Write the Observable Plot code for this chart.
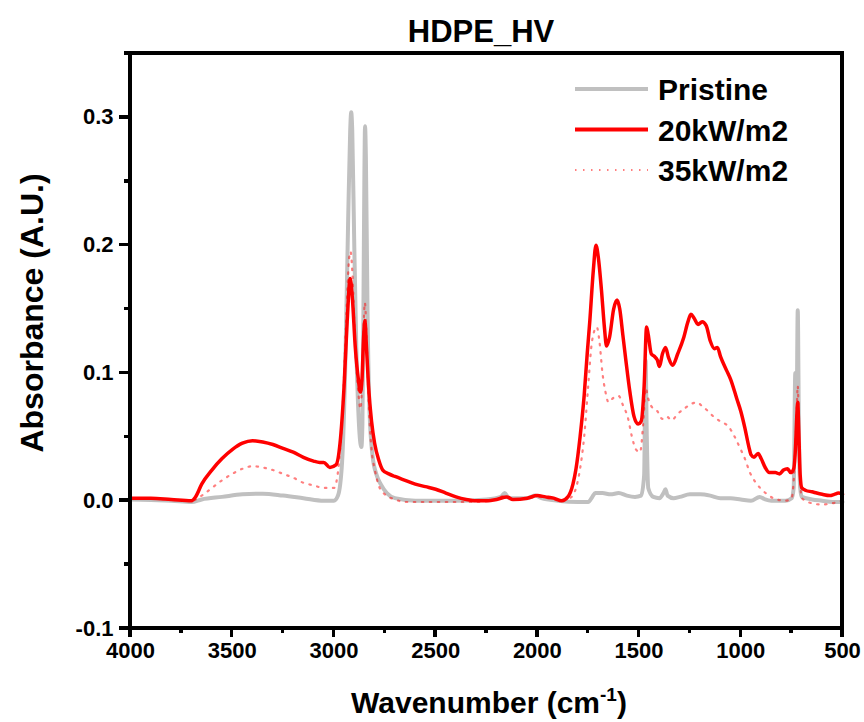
<!DOCTYPE html>
<html><head><meta charset="utf-8">
<script src="https://cdn.jsdelivr.net/npm/d3@7"></script>
<script src="https://cdn.jsdelivr.net/npm/@observablehq/plot@0.6"></script>
<style>
html,body{margin:0;padding:0;background:#fff;overflow:hidden}
svg text{font-weight:bold}
</style>
</head><body><div id="chart"></div>
<script>
// ---- Data ----
const seriesNames = ["Pristine", "20kW/m2", "35kW/m2"];

const wnPristine = [4000,3900,3800,3700,3650,3550,3450,3350,3250,3150,3050,3000,2980,2960,2945,2930,2920,2915,2910,2900,2890,2880,2870,2865,2860,2855,2850,2847,2843,2835,2825,2810,2790,2770,2740,2700,2600,2400,2250,2180,2160,2140,2050,2010,1980,1900,1800,1750,1730,1715,1680,1640,1600,1560,1520,1490,1475,1468,1462,1455,1430,1400,1380,1370,1360,1330,1300,1250,1200,1150,1100,1050,1000,950,907,880,850,780,750,740,732,726,720,714,708,700,650,600,550,500];
const absPristine = [0.001,0.0005,0.0,-0.001,0.001,0.003,0.005,0.0055,0.004,0.002,0.0,0.0,0.004,0.03,0.10,0.22,0.29,0.304,0.29,0.20,0.12,0.07,0.045,0.042,0.06,0.15,0.26,0.293,0.27,0.15,0.07,0.035,0.02,0.013,0.006,0.002,0.0,0.0,0.001,0.003,0.006,0.002,0.002,0.004,0.002,0.0,-0.001,-0.001,0.003,0.006,0.006,0.005,0.006,0.004,0.003,0.004,0.02,0.11,0.05,0.01,0.003,0.002,0.006,0.009,0.004,0.002,0.003,0.005,0.005,0.004,0.002,0.002,0.001,0.0,0.003,0.001,0.0,0.0,0.002,0.01,0.1,0.06,0.149,0.05,0.01,0.003,0.001,0.0,-0.001,-0.001];

const wn20 = [4000,3900,3800,3700,3680,3650,3600,3550,3500,3450,3400,3350,3300,3250,3200,3150,3100,3070,3050,3020,2990,2970,2950,2935,2920,2910,2895,2880,2870,2862,2855,2848,2840,2830,2815,2800,2780,2760,2730,2700,2650,2600,2550,2500,2450,2400,2350,2300,2250,2200,2150,2120,2050,2000,1960,1920,1880,1850,1825,1810,1790,1770,1755,1742,1725,1712,1700,1685,1670,1660,1645,1625,1608,1595,1580,1565,1545,1525,1505,1490,1475,1463,1455,1440,1425,1410,1400,1385,1370,1355,1335,1310,1280,1260,1245,1230,1210,1190,1170,1150,1130,1115,1100,1070,1050,1020,1000,980,960,950,935,915,900,880,860,830,810,790,770,755,740,730,725,720,715,708,700,680,650,627,600,563,540,520,500];
const abs20 = [0.002,0.002,0.001,0.0,0.003,0.013,0.024,0.033,0.04,0.045,0.047,0.046,0.044,0.041,0.038,0.034,0.031,0.03,0.03,0.026,0.028,0.045,0.09,0.14,0.174,0.16,0.12,0.095,0.085,0.095,0.125,0.141,0.12,0.09,0.062,0.045,0.032,0.024,0.021,0.019,0.016,0.013,0.011,0.009,0.006,0.003,0.001,0.0,0.0,0.001,0.003,0.001,0.002,0.004,0.003,0.002,0.0,0.003,0.013,0.025,0.05,0.082,0.115,0.141,0.18,0.2,0.19,0.165,0.135,0.121,0.128,0.15,0.157,0.15,0.13,0.11,0.085,0.066,0.06,0.062,0.09,0.136,0.13,0.115,0.113,0.11,0.105,0.115,0.12,0.112,0.106,0.115,0.128,0.14,0.146,0.143,0.138,0.14,0.137,0.125,0.119,0.12,0.113,0.102,0.095,0.08,0.07,0.057,0.042,0.036,0.034,0.037,0.033,0.026,0.022,0.022,0.021,0.024,0.025,0.022,0.025,0.045,0.065,0.077,0.055,0.02,0.01,0.008,0.007,0.006,0.005,0.004,0.005,0.006,0.005];

const wn35 = [4000,3800,3700,3650,3600,3550,3500,3450,3400,3350,3300,3250,3200,3150,3100,3050,3000,2975,2955,2940,2925,2918,2910,2895,2880,2870,2862,2855,2848,2840,2830,2815,2800,2780,2750,2700,2650,2500,2300,2200,2160,2120,2050,2000,1950,1880,1840,1810,1790,1770,1750,1735,1720,1708,1695,1680,1665,1650,1630,1600,1580,1555,1535,1515,1495,1480,1467,1455,1440,1410,1385,1365,1340,1310,1270,1240,1215,1190,1160,1135,1100,1060,1030,1000,980,955,930,905,870,840,780,750,735,725,720,714,706,700,650,600,550,500];
const abs35 = [0.002,0.001,0.0,0.004,0.01,0.016,0.021,0.025,0.027,0.026,0.024,0.021,0.018,0.014,0.012,0.01,0.01,0.03,0.08,0.14,0.19,0.195,0.18,0.12,0.085,0.072,0.09,0.13,0.155,0.13,0.08,0.04,0.025,0.012,0.005,0.001,-0.001,-0.001,-0.001,0.001,0.004,0.001,0.002,0.003,0.002,0.0,0.002,0.01,0.025,0.05,0.09,0.12,0.133,0.136,0.125,0.1,0.085,0.077,0.08,0.082,0.075,0.065,0.05,0.04,0.038,0.06,0.088,0.08,0.074,0.07,0.064,0.066,0.063,0.068,0.073,0.076,0.077,0.074,0.07,0.066,0.062,0.058,0.05,0.04,0.033,0.022,0.015,0.01,0.005,0.002,0.0,0.002,0.03,0.07,0.09,0.05,0.01,0.002,-0.002,-0.003,-0.002,0.0];

const xTicks = [4000,3500,3000,2500,2000,1500,1000,500];
const xMinorTicks = [3750,3250,2750,2250,1750,1250,750];
const yTicks = [-0.1,0.0,0.1,0.2,0.3];
const yMinorTicks = [-0.05,0.05,0.15,0.25,0.35];

const toRows = (wn, a) => wn.map((w, i) => ({wn: w, a: a[i]}));
const pristine = toRows(wnPristine, absPristine);
const kw20 = toRows(wn20, abs20);
const kw35 = toRows(wn35, abs35);

const W = 864, H = 722;
const mL = 130, mR = 22, mT = 53, mB = 94;

const plot = Plot.plot({
  width: W, height: H,
  marginTop: mT, marginBottom: mB, marginLeft: mL, marginRight: mR,
  style: {fontFamily: "'Liberation Sans', Arial, sans-serif", fontSize: "22px", fontWeight: "bold", background: "#fff", overflow: "visible", maxWidth: "none"},
  x: {domain: [4000, 500]},
  y: {domain: [-0.1, 0.35]},
  marks: [
    Plot.line(pristine, {x: "wn", y: "a", stroke: "#c0c0c0", strokeWidth: 4, curve: "monotone-x"}),
    Plot.line(kw20, {x: "wn", y: "a", stroke: "#ff0000", strokeWidth: 3.5, curve: "monotone-x"}),
    Plot.line(kw35, {x: "wn", y: "a", stroke: "#ff0000", strokeOpacity: 0.5, strokeWidth: 2.2, strokeDasharray: "1.5 6.5", curve: "monotone-x"}),
    Plot.axisX({ticks: xTicks, tickSize: 0, tickPadding: 14, tickFormat: d => String(d), label: null}),
    Plot.axisY({ticks: yTicks, tickSize: 0, tickPadding: 17, tickFormat: d => d.toFixed(1), label: null})
  ]
});

const svg = d3.select(plot);
const ff = "'Liberation Sans', Arial, sans-serif";
const sx = plot.scale("x"), sy = plot.scale("y");
const x0 = sx.apply(4000), x1 = sx.apply(500), y0 = sy.apply(-0.1), y1 = sy.apply(0.35);

// ticks (outward) drawn through the plot's scales
const tg = svg.append("g").attr("stroke", "#000").attr("stroke-width", 3.5).attr("shape-rendering", "crispEdges");
xTicks.forEach(v => { const x = sx.apply(v); tg.append("line").attr("x1", x).attr("x2", x).attr("y1", y0).attr("y2", y0 + 9); });
xMinorTicks.forEach(v => { const x = sx.apply(v); tg.append("line").attr("x1", x).attr("x2", x).attr("y1", y0).attr("y2", y0 + 5); });
yTicks.forEach(v => { const y = sy.apply(v); tg.append("line").attr("x1", x0 - 11).attr("x2", x0).attr("y1", y).attr("y2", y); });
yMinorTicks.forEach(v => { const y = sy.apply(v); tg.append("line").attr("x1", x0 - 6).attr("x2", x0).attr("y1", y).attr("y2", y); });
// frame
svg.append("rect").attr("x", x0).attr("y", y1).attr("width", x1 - x0).attr("height", y0 - y1)
  .attr("fill", "none").attr("stroke", "#000").attr("stroke-width", 4.5).attr("shape-rendering", "crispEdges");

svg.append("text").attr("x", 481).attr("y", 42).attr("text-anchor", "middle")
  .attr("font-family", ff).attr("font-size", 31).attr("font-weight", "bold").attr("fill", "#000").text("HDPE_HV");

const xl = svg.append("text").attr("x", 489).attr("y", 713).attr("text-anchor", "middle")
  .attr("font-family", ff).attr("font-size", 30).attr("font-weight", "bold").attr("fill", "#000");
xl.append("tspan").text("Wavenumber (cm");
xl.append("tspan").attr("font-size", 19).attr("dy", -12).text("-1");
xl.append("tspan").attr("dy", 12).text(")");

svg.append("text").attr("transform", "translate(43,313) rotate(-90)").attr("text-anchor", "middle")
  .attr("font-family", ff).attr("font-size", 32).attr("font-weight", "bold").attr("fill", "#000").text("Absorbance (A.U.)");

const legendItems = [
  {name: seriesNames[0], stroke: "#c0c0c0", width: 4, opacity: 1, dash: null},
  {name: seriesNames[1], stroke: "#ff0000", width: 4, opacity: 1, dash: null},
  {name: seriesNames[2], stroke: "#ff0000", width: 2.2, opacity: 0.5, dash: "1.5 6.5"}
];
legendItems.forEach((d, i) => {
  const y = 89 + i * 40.5;
  const ln = svg.append("line").attr("x1", 575).attr("x2", 648).attr("y1", y).attr("y2", y)
    .attr("stroke", d.stroke).attr("stroke-width", d.width).attr("stroke-opacity", d.opacity);
  if (d.dash) ln.attr("stroke-dasharray", d.dash);
  svg.append("text").attr("x", 658).attr("y", y + 11).attr("text-anchor", "start")
    .attr("font-family", ff).attr("font-size", 30)
    .attr("font-weight", "bold").attr("fill", "#000").text(d.name);
});

document.getElementById("chart").appendChild(plot);
</script>
</body></html>
